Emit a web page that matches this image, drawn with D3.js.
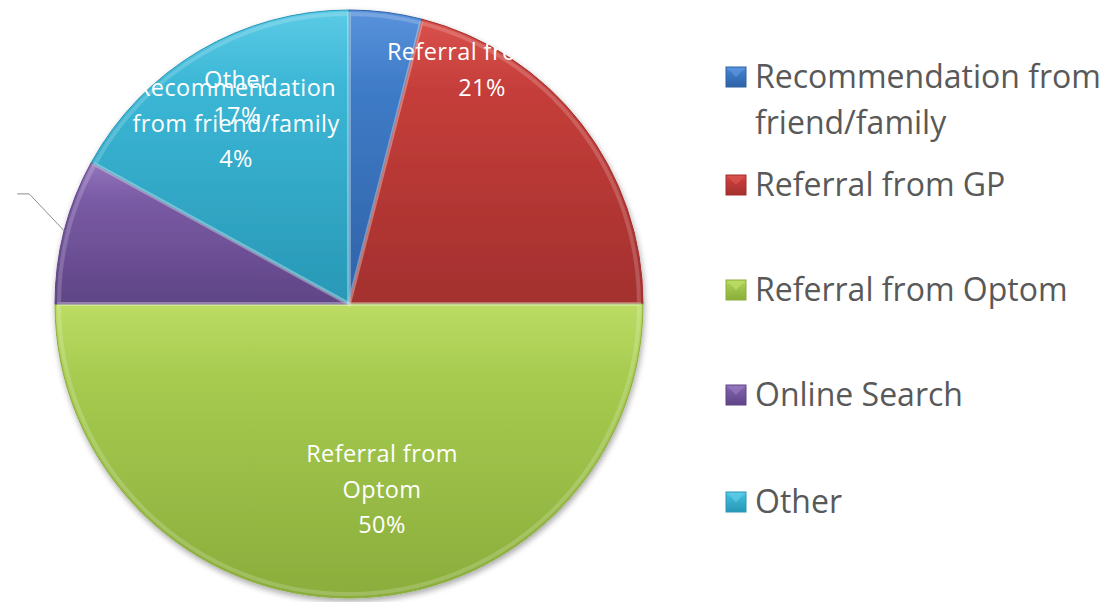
<!DOCTYPE html>
<html>
<head>
<meta charset="utf-8">
<script src="https://cdn.jsdelivr.net/npm/d3@7"></script>
<style>
  body { margin: 0; background: #fff; }
  svg { display: block; }
</style>
</head>
<body>
<script>
// data
var categories = ["Recommendation from friend/family", "Referral from GP", "Referral from Optom", "Online Search", "Other"];
var values = [4, 21, 50, 8, 17];
var legend_lines = [["Recommendation from", "friend/family"], ["Referral from GP"], ["Referral from Optom"], ["Online Search"], ["Other"]];
var label_lines = [["Recommendation", "from friend/family"], ["Referral from GP"], ["Referral from", "Optom"], ["Online Search"], ["Other"]];

var W = 1113, H = 602;
var cx = 349, cy = 304, R = 294;

// slice colours: [light, base, dark]
var slice_color = [
    ["#5a93dc", "#3f7cc8", "#2f62a6"],
    ["#d9514c", "#c53e3a", "#a3302e"],
    ["#bcdc64", "#a6cb4f", "#8aad3c"],
    ["#9476bd", "#7a5ba5", "#5f4586"],
    ["#5ccbe6", "#3cb7d6", "#2898b6"]
];
// where office put each data label (line centre x, first baseline y); null = pushed off the chart
var label_pos = [[236, 96], [482, 60], [382, 462], null, [237, 88]];

var svg = d3.select("body").append("svg")
    .attr("width", W)
    .attr("height", H);

var defs = svg.append("defs");

var shadow = defs.append("filter").attr("id", "shadow")
    .attr("x", "-10%").attr("y", "-10%").attr("width", "120%").attr("height", "120%");
shadow.append("feGaussianBlur").attr("in", "SourceAlpha").attr("stdDeviation", 3);
shadow.append("feOffset").attr("dx", 1).attr("dy", 3).attr("result", "off");
shadow.append("feComponentTransfer").append("feFuncA").attr("type", "linear").attr("slope", 0.35);
var merge = shadow.append("feMerge");
merge.append("feMergeNode");
merge.append("feMergeNode").attr("in", "SourceGraphic");

slice_color.forEach(function(c, i){
    var g = defs.append("linearGradient").attr("id", "grad" + i)
        .attr("x1", 0).attr("y1", 0).attr("x2", 0).attr("y2", 1);
    g.append("stop").attr("offset", "0%").attr("stop-color", c[0]);
    g.append("stop").attr("offset", "25%").attr("stop-color", c[1]);
    g.append("stop").attr("offset", "100%").attr("stop-color", c[2]);
});

defs.append("clipPath").attr("id", "labelclip")
    .append("rect").attr("x", 131).attr("y", 0).attr("width", 391).attr("height", H);

var pie = d3.pie().sort(null).value(function(d){ return d; });
var arcs = pie(values);
var arc = d3.arc().innerRadius(0).outerRadius(R);
var bevel = d3.arc().innerRadius(0).outerRadius(R - 4);

var pie_g = svg.append("g")
    .attr("transform", "translate(" + cx + "," + cy + ")")
    .attr("filter", "url(#shadow)");

pie_g.selectAll("path.slice")
    .data(arcs)
    .enter()
    .append("path")
    .attr("class", "slice")
    .attr("d", arc)
    .attr("fill", function(d, i){ return "url(#grad" + i + ")"; })
    .attr("stroke", function(d, i){ return slice_color[i][2]; })
    .attr("stroke-width", 1);

// soft bevel rim inside each slice
pie_g.selectAll("path.rim")
    .data(arcs)
    .enter()
    .append("path")
    .attr("class", "rim")
    .attr("d", bevel)
    .attr("fill", "none")
    .attr("stroke", "#fff")
    .attr("stroke-opacity", 0.18)
    .attr("stroke-width", 4);

// leader line for the label that sits outside the pie
var outer = d3.arc().innerRadius(R).outerRadius(R);
arcs.forEach(function(d, i){
    if (label_pos[i]) return;
    var p = outer.centroid(d);
    var x0 = cx + p[0], y0 = cy + p[1];
    svg.append("polyline")
        .attr("points", [[x0, y0], [x0 - 35, y0 - 37], [x0 - 47, y0 - 37]].map(function(q){ return q.join(","); }).join(" "))
        .attr("fill", "none")
        .attr("stroke", "#8c8c8c")
        .attr("stroke-width", 1);
});

// data labels
var lab_g = svg.append("g").attr("clip-path", "url(#labelclip)");
var label_order = [4, 0, 1, 2];
label_order.forEach(function(i){
    var lines = label_lines[i].concat([values[i] + "%"]);
    var t = lab_g.append("text")
        .attr("x", label_pos[i][0])
        .attr("y", label_pos[i][1])
        .attr("text-anchor", "middle")
        .attr("font-family", "'Open Sans', sans-serif")
        .attr("font-size", 23.5)
        .attr("letter-spacing", 0.4)
        .attr("fill", "#fff");
    lines.forEach(function(s, k){
        t.append("tspan")
            .attr("x", label_pos[i][0])
            .attr("dy", k == 0 ? 0 : 35.5)
            .text(s);
    });
});

// legend
var legend_y = [77, 185, 290, 395, 502];
var leg = svg.append("g").attr("class", "legend")
    .selectAll("g")
    .data(categories)
    .enter()
    .append("g")
    .attr("transform", function(d, i){ return "translate(726," + legend_y[i] + ")"; });

leg.append("rect")
    .attr("x", 0).attr("y", -10)
    .attr("width", 20).attr("height", 20)
    .attr("fill", function(d, i){ return "url(#grad" + i + ")"; })
    .attr("stroke", function(d, i){ return slice_color[i][2]; })
    .attr("stroke-width", 1);

leg.append("path")
    .attr("d", "M1,-9 L19,-9 L10,0 Z")
    .attr("fill", function(d, i){ return slice_color[i][0]; })
    .attr("opacity", 0.8);

var leg_txt = leg.append("text")
    .attr("x", 29)
    .attr("y", 11)
    .attr("font-family", "'Open Sans', sans-serif")
    .attr("font-size", 32)
    .attr("fill", "#595959");

leg_txt.each(function(d, i){
    var t = d3.select(this);
    legend_lines[i].forEach(function(s, k){
        t.append("tspan").attr("x", 29).attr("dy", k == 0 ? 0 : 46).text(s);
    });
});
</script>
</body>
</html>
